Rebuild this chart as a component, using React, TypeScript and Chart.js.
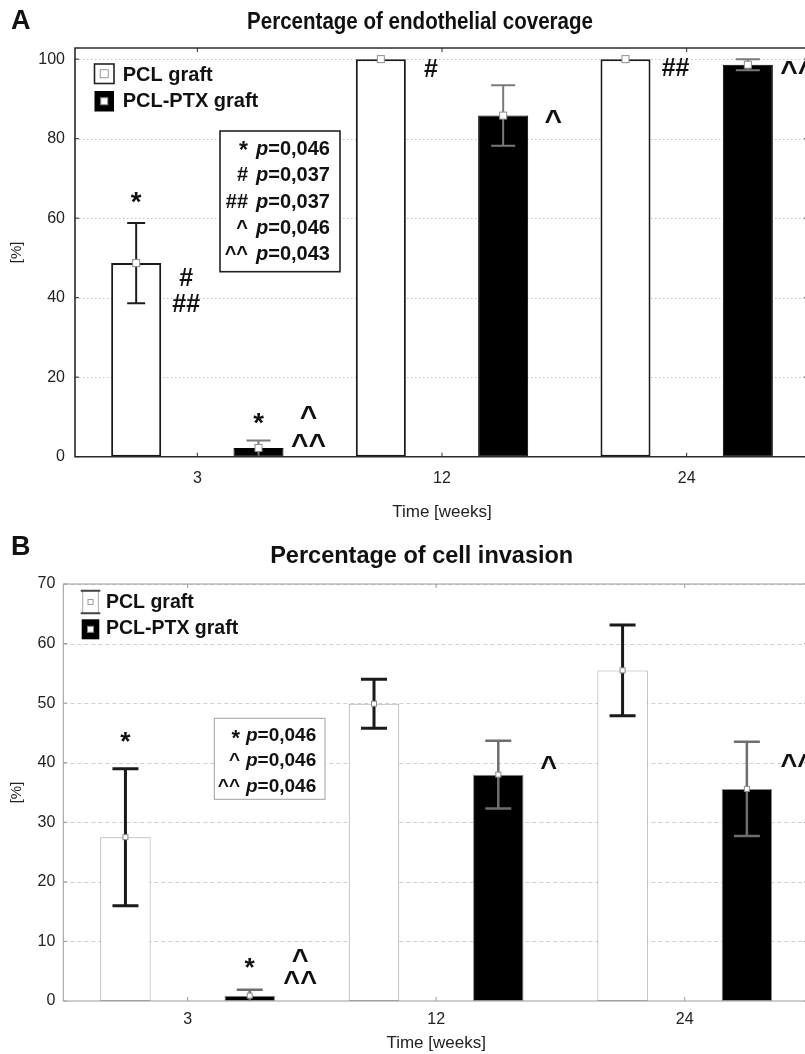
import React, { useEffect, useRef } from 'react';
import { Chart, registerables } from 'chart.js';

Chart.register(...registerables);

const FONT = "'Liberation Sans', Arial, Helvetica, sans-serif";

// ---------- shared data ----------
const categories = ['3', '12', '24'];
const seriesNames = ['PCL graft', 'PCL-PTX graft'];
const axisXTitle = 'Time [weeks]';
const axisYTitle = '[%]';

// ---------- panel A: endothelial coverage ----------
const titleA = 'Percentage of endothelial coverage';
const coveragePCL = [48.7, 100, 100];
const coveragePCLsd = [10.1, 0, 0];
const coveragePTX = [2.2, 85.8, 98.6];
const coveragePTXsd = [1.9, 7.6, 1.4];
const coverageTicks = [0, 20, 40, 60, 80, 100];
const coverageMax = 102.8;
const coverageSymbols = ['*', '#', '##', '^', '^^'];
const coveragePValues = ['0,046', '0,037', '0,037', '0,046', '0,043'];
// [datasetIndex, categoryIndex, text, yValue, placement]
const coverageMarks: [number, number, string, number, string][] = [
  [0, 0, '*', 65.3, 'top'],
  [0, 0, '#', 45.2, 'side'],
  [0, 0, '##', 38.7, 'side'],
  [1, 0, '*', 9.6, 'top'],
  [1, 0, '^', 11.0, 'side'],
  [1, 0, '^^', 4.0, 'side'],
  [0, 1, '#', 97.8, 'side'],
  [1, 1, '^', 85.6, 'side'],
  [0, 2, '##', 98.0, 'side'],
  [1, 2, '^^', 97.8, 'side'],
];

// ---------- panel B: cell invasion ----------
const titleB = 'Percentage of cell invasion';
const invasionPCL = [27.5, 49.9, 55.5];
const invasionPCLsd = [11.5, 4.1, 7.6];
const invasionPTX = [0.9, 38.0, 35.6];
const invasionPTXsd = [1.0, 5.7, 7.9];
const invasionTicks = [0, 10, 20, 30, 40, 50, 60, 70];
const invasionMax = 70;
const invasionSymbols = ['*', '^', '^^'];
const invasionPValues = ['0,046', '0,046', '0,046'];
const invasionMarks: [number, number, string, number, string][] = [
  [0, 0, '*', 44.4, 'top'],
  [1, 0, '*', 6.4, 'top'],
  [1, 0, '^', 7.7, 'side'],
  [1, 0, '^^', 3.9, 'side'],
  [1, 1, '^', 40.1, 'side'],
  [1, 2, '^^', 40.4, 'side'],
];

// ---------- panel layout / styles ----------
const panelA = {
  letter: 'A', title: titleA,
  top: 0, w: 820, h: 525,
  padTop: 48, yWidth: 75, xHeight: 68.3,
  xTickPad: 12.7, xTitlePad: 2.8, yTickPad: 10, yTitlePad: 7.5,
  pcl: coveragePCL, pclSd: coveragePCLsd, ptx: coveragePTX, ptxSd: coveragePTXsd,
  ticks: coverageTicks, max: coverageMax,
  symbols: coverageSymbols, pvalues: coveragePValues, marks: coverageMarks,
  barPct: 0.409,
  pclBorder: '#1a1a1a', pclBorderW: 2, ptxBorder: '#000', ptxBorderW: 1,
  axisColor: '#2a2a2a', axisW: 1.6,
  gridColor: '#c4c4c4', gridDash: [1.5, 2.5],
  errColors: ['#1e1e1e', '#7a7a7a'], errW: [2, 2], capHalf: [9, 12],
  markerSize: 7,
  titleX: 420, titleY: 22, titleSize: 24, titleW: 346,
  letterY: 22, letterSize: 27,
  legend: { boxX: 94.5, boxW: 19.5, rows: [[64, 19.5, 75], [91, 20.5, 101.7]], textX: 122.7, size: 20, style: 'A' },
  stats: { x: 220, y: 131, w: 120, h: 140.7, lines: [149, 175.5, 202, 228.3, 254.5], symRight: 248, pLeft: 256, size: 20, border: '#222', bw: 1.6 },
  markSize: 25,
};

const panelB = {
  letter: 'B', title: titleB,
  top: 525, w: 820, h: 529,
  padTop: 59, yWidth: 63.3, xHeight: 53,
  xTickPad: 9.4, xTitlePad: 0, yTickPad: 8, yTitlePad: 7.5,
  pcl: invasionPCL, pclSd: invasionPCLsd, ptx: invasionPTX, ptxSd: invasionPTXsd,
  ticks: invasionTicks, max: invasionMax,
  symbols: invasionSymbols, pvalues: invasionPValues, marks: invasionMarks,
  barPct: 0.406,
  pclBorder: '#a8a8a8', pclBorderW: 1, ptxBorder: '#8a8a8a', ptxBorderW: 1,
  axisColor: '#9a9a9a', axisW: 1,
  gridColor: '#cfcfcf', gridDash: [4, 3],
  errColors: ['#1a1a1a', '#6e6e6e'], errW: [3, 2.5], capHalf: [13, 13],
  markerSize: 5,
  titleX: 421.7, titleY: 31, titleSize: 24, titleW: 303,
  letterY: 23, letterSize: 27,
  legend: { boxX: 81.7, boxW: 17.6, rows: [[65.7, 22.6, 77.5], [94.3, 20, 104]], textX: 106, size: 19.5, style: 'B' },
  stats: { x: 214.3, y: 193.3, w: 110.7, h: 81, lines: [211, 236, 261.5], symRight: 240, pLeft: 246, size: 19, border: '#a0a0a0', bw: 1 },
  markSize: 24,
};

function makeDecor(p: any) {
  return {
    id: 'decor',
    beforeDraw(chart: any) {
      const ctx = chart.ctx;
      ctx.save();
      ctx.fillStyle = '#ffffff';
      ctx.fillRect(0, 0, chart.width, chart.height);
      ctx.restore();
    },
    beforeDatasetsDraw(chart: any) {
      const ctx = chart.ctx;
      const { left, right } = chart.chartArea;
      const ys = chart.scales.y;
      ctx.save();
      ctx.strokeStyle = p.gridColor;
      ctx.lineWidth = 1;
      ctx.setLineDash(p.gridDash);
      p.ticks.forEach((v: number) => {
        if (v === 0) return;
        const y = Math.round(ys.getPixelForValue(v)) + 0.5;
        ctx.beginPath();
        ctx.moveTo(left, y);
        ctx.lineTo(right, y);
        ctx.stroke();
      });
      ctx.restore();
    },
    afterDatasetsDraw(chart: any) {
      const ctx = chart.ctx;
      const ys = chart.scales.y;
      const xs = chart.scales.x;
      const { left, right, top, bottom } = chart.chartArea;
      // error bars and mean markers
      chart.data.datasets.forEach((ds: any, i: number) => {
        const meta = chart.getDatasetMeta(i);
        meta.data.forEach((el: any, j: number) => {
          const m = ds.data[j];
          const sd = ds.sd[j];
          const x = el.x;
          if (sd > 0) {
            const y1 = ys.getPixelForValue(m + sd);
            const y2 = ys.getPixelForValue(Math.max(0, m - sd));
            ctx.save();
            ctx.strokeStyle = p.errColors[i];
            ctx.lineWidth = p.errW[i];
            ctx.beginPath();
            ctx.moveTo(x, y1);
            ctx.lineTo(x, y2);
            ctx.moveTo(x - p.capHalf[i], y1);
            ctx.lineTo(x + p.capHalf[i], y1);
            if (m - sd > 0.6) {
              ctx.moveTo(x - p.capHalf[i], y2);
              ctx.lineTo(x + p.capHalf[i], y2);
            }
            ctx.stroke();
            ctx.restore();
          }
          const ym = ys.getPixelForValue(m);
          const s = p.markerSize;
          ctx.save();
          ctx.fillStyle = '#ffffff';
          ctx.strokeStyle = '#8c8c8c';
          ctx.lineWidth = 1;
          ctx.fillRect(x - s / 2, ym - s / 2, s, s);
          ctx.strokeRect(x - s / 2, ym - s / 2, s, s);
          ctx.restore();
        });
      });
      // frame
      ctx.save();
      ctx.strokeStyle = p.axisColor;
      ctx.lineWidth = p.axisW;
      ctx.beginPath();
      ctx.moveTo(left, top);
      ctx.lineTo(right, top);
      ctx.lineTo(right, bottom);
      ctx.lineTo(left, bottom);
      ctx.closePath();
      ctx.stroke();
      // inward tick marks
      ctx.lineWidth = 1;
      ctx.beginPath();
      p.ticks.forEach((v: number) => {
        const y = ys.getPixelForValue(v);
        ctx.moveTo(left, y);
        ctx.lineTo(left + 4, y);
        ctx.moveTo(right, y);
        ctx.lineTo(right - 5, y);
      });
      categories.forEach((_c, k) => {
        const x = xs.getPixelForValue(k);
        ctx.moveTo(x, top);
        ctx.lineTo(x, top + 4);
        ctx.moveTo(x, bottom);
        ctx.lineTo(x, bottom - 4);
      });
      ctx.stroke();
      ctx.restore();
    },
    afterDraw(chart: any) {
      const ctx = chart.ctx;
      const ys = chart.scales.y;
      ctx.save();
      // title (bold, condensed horizontally to the reference width)
      ctx.fillStyle = '#111';
      ctx.textAlign = 'center';
      ctx.textBaseline = 'middle';
      ctx.font = `bold ${p.titleSize}px ${FONT}`;
      const tw = ctx.measureText(p.title).width;
      const sx = Math.min(1, p.titleW / tw);
      ctx.save();
      ctx.translate(p.titleX, p.titleY);
      ctx.scale(sx, 1);
      ctx.fillText(p.title, 0, 0);
      ctx.restore();
      // letter
      ctx.textAlign = 'left';
      ctx.font = `bold ${p.letterSize}px ${FONT}`;
      ctx.fillText(p.letter, 11, p.letterY);

      // legend
      const lg = p.legend;
      lg.rows.forEach((r: number[], i: number) => {
        const [by, bh, ty] = r;
        const bx = lg.boxX;
        const bw = lg.boxW;
        if (i === 0) {
          ctx.fillStyle = '#fff';
          ctx.fillRect(bx, by, bw, bh);
          if (lg.style === 'A') {
            ctx.strokeStyle = '#222';
            ctx.lineWidth = 1.6;
            ctx.strokeRect(bx, by, bw, bh);
          } else {
            ctx.strokeStyle = '#aaa';
            ctx.lineWidth = 1;
            ctx.strokeRect(bx + 1, by, bw - 2, bh);
            ctx.strokeStyle = '#444';
            ctx.lineWidth = 2;
            ctx.beginPath();
            ctx.moveTo(bx - 1, by);
            ctx.lineTo(bx + bw + 1, by);
            ctx.moveTo(bx - 1, by + bh);
            ctx.lineTo(bx + bw + 1, by + bh);
            ctx.stroke();
          }
          const s = lg.style === 'A' ? 8 : 5;
          ctx.strokeStyle = '#999';
          ctx.lineWidth = 1;
          ctx.strokeRect(bx + bw / 2 - s / 2, by + bh / 2 - s / 2, s, s);
        } else {
          ctx.fillStyle = '#000';
          ctx.fillRect(bx, by, bw, bh);
          const s = lg.style === 'A' ? 7 : 6;
          ctx.fillStyle = '#fff';
          ctx.fillRect(bx + bw / 2 - s / 2, by + bh / 2 - s / 2, s, s);
          ctx.strokeStyle = '#888';
          ctx.lineWidth = 1;
          ctx.strokeRect(bx + bw / 2 - s / 2, by + bh / 2 - s / 2, s, s);
        }
        ctx.fillStyle = '#111';
        ctx.textAlign = 'left';
        ctx.textBaseline = 'middle';
        ctx.font = `bold ${lg.size}px ${FONT}`;
        ctx.fillText(seriesNames[i], lg.textX, ty);
      });

      // stats box
      const st = p.stats;
      ctx.fillStyle = '#fff';
      ctx.fillRect(st.x, st.y, st.w, st.h);
      ctx.strokeStyle = st.border;
      ctx.lineWidth = st.bw;
      ctx.strokeRect(st.x, st.y, st.w, st.h);
      ctx.fillStyle = '#111';
      ctx.textBaseline = 'middle';
      p.symbols.forEach((sym: string, i: number) => {
        const y = st.lines[i];
        const symSize = sym.indexOf('*') >= 0 ? st.size * 1.15 : st.size;
        ctx.font = `bold ${symSize}px ${FONT}`;
        ctx.textAlign = 'right';
        ctx.fillText(sym, st.symRight, y + (sym === '*' ? 3 : 0));
        ctx.textAlign = 'left';
        ctx.font = `italic bold ${st.size}px ${FONT}`;
        ctx.fillText('p', st.pLeft, y);
        const pw = ctx.measureText('p').width;
        ctx.font = `bold ${st.size}px ${FONT}`;
        ctx.fillText('=' + p.pvalues[i], st.pLeft + pw, y);
      });

      // significance marks
      ctx.textAlign = 'center';
      ctx.textBaseline = 'alphabetic';
      p.marks.forEach((mk: any[]) => {
        const [dsi, cat, text, val, place] = mk;
        const scale = text.indexOf('^') >= 0 ? 1.2 : text.indexOf('*') >= 0 ? 1.1 : 1;
        ctx.font = `bold ${p.markSize * scale}px ${FONT}`;
        const el = chart.getDatasetMeta(dsi).data[cat];
        const x = el.x + (place === 'side' ? el.width : 0);
        const y = ys.getPixelForValue(val);
        const m = ctx.measureText(text);
        const base = y + (m.actualBoundingBoxAscent - m.actualBoundingBoxDescent) / 2;
        ctx.fillText(text, x, base);
      });
      ctx.restore();
    },
  };
}

function Panel({ p }: { p: any }) {
  const ref = useRef<HTMLCanvasElement>(null);
  useEffect(() => {
    const chart = new Chart(ref.current as HTMLCanvasElement, {
      type: 'bar',
      data: {
        labels: categories,
        datasets: [
          {
            label: seriesNames[0],
            data: p.pcl,
            sd: p.pclSd,
            backgroundColor: '#ffffff',
            borderColor: p.pclBorder,
            borderWidth: p.pclBorderW,
            borderSkipped: false,
            barPercentage: p.barPct,
            categoryPercentage: 1,
          } as any,
          {
            label: seriesNames[1],
            data: p.ptx,
            sd: p.ptxSd,
            backgroundColor: '#000000',
            borderColor: p.ptxBorder,
            borderWidth: p.ptxBorderW,
            borderSkipped: false,
            barPercentage: p.barPct,
            categoryPercentage: 1,
          } as any,
        ],
      },
      options: {
        responsive: false,
        animation: false,
        events: [],
        layout: { padding: { top: p.padTop, right: p.w - 809, bottom: 0, left: 0 } },
        plugins: {
          legend: { display: false },
          title: { display: false },
          tooltip: { enabled: false },
        },
        scales: {
          x: {
            type: 'category',
            grid: { display: false, drawTicks: false },
            border: { display: false },
            ticks: {
              color: '#222',
              padding: p.xTickPad,
              font: { family: FONT, size: 16 },
              maxRotation: 0,
            },
            title: {
              display: true,
              text: axisXTitle,
              color: '#222',
              font: { family: FONT, size: 17 },
              padding: { top: 0, bottom: p.xTitlePad },
            },
            afterFit: (s: any) => {
              s.height = p.xHeight;
            },
          },
          y: {
            type: 'linear',
            min: 0,
            max: p.max,
            grid: { display: false, drawTicks: false },
            border: { display: false },
            ticks: {
              color: '#222',
              padding: p.yTickPad,
              font: { family: FONT, size: 16 },
            },
            title: {
              display: true,
              text: axisYTitle,
              color: '#222',
              font: { family: FONT, size: 15 },
              padding: { top: p.yTitlePad, bottom: 0 },
            },
            afterBuildTicks: (s: any) => {
              s.ticks = p.ticks.map((v: number) => ({ value: v }));
            },
            afterFit: (s: any) => {
              s.width = p.yWidth;
            },
          },
        },
      },
      plugins: [makeDecor(p)],
    });
    return () => chart.destroy();
  }, []);
  return (
    <canvas
      ref={ref}
      width={p.w}
      height={p.h}
      style={{ position: 'absolute', left: 0, top: p.top, width: p.w, height: p.h }}
    />
  );
}

export default function App() {
  return (
    <div
      style={{
        position: 'absolute',
        left: 0,
        top: 0,
        width: 805,
        height: 1054,
        overflow: 'hidden',
        background: '#fff',
      }}
    >
      <Panel p={panelA} />
      <Panel p={panelB} />
    </div>
  );
}
